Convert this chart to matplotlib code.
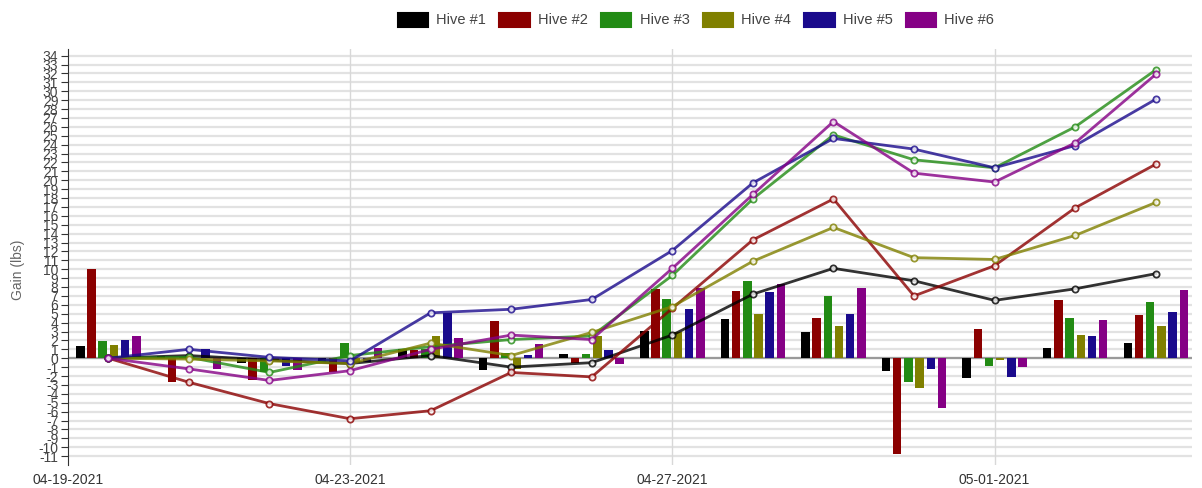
import numpy as np
import matplotlib
matplotlib.use("Agg")
import matplotlib.pyplot as plt
import matplotlib.dates as mdates
from matplotlib.patches import Patch
from datetime import datetime

plt.rcParams['font.family'] = ['Liberation Sans', 'DejaVu Sans']
plt.rcParams['axes.unicode_minus'] = False

# data
dates = ['2021-04-20', '2021-04-21', '2021-04-22', '2021-04-23', '2021-04-24',
         '2021-04-25', '2021-04-26', '2021-04-27', '2021-04-28', '2021-04-29',
         '2021-04-30', '2021-05-01', '2021-05-02', '2021-05-03']
hives = ['Hive #1', 'Hive #2', 'Hive #3', 'Hive #4', 'Hive #5', 'Hive #6']

# daily gain (bars)
daily_1 = [1.4, 0.3, -0.5, -0.4, 1.0, -1.3, 0.5, 3.1, 4.4, 2.9, -1.4, -2.2, 1.2, 1.7]
daily_2 = [10.0, -2.7, -2.4, -1.6, 0.9, 4.2, -0.5, 7.75, 7.5, 4.5, -10.8, 3.3, 6.5, 4.9]
daily_3 = [1.9, 0.1, -1.6, 1.7, 1.0, 0.6, 0.5, 6.6, 8.7, 7.0, -2.7, -0.9, 4.5, 6.3]
daily_4 = [1.5, -0.1, -0.2, -0.5, 2.5, -1.2, 2.5, 2.9, 5.0, 3.6, -3.3, -0.2, 2.6, 3.6]
daily_5 = [2.1, 1.0, -0.9, -0.4, 5.1, 0.4, 0.9, 5.5, 7.4, 5.0, -1.2, -2.1, 2.5, 5.2]
daily_6 = [2.5, -1.2, -1.3, 1.1, 2.3, 1.6, -0.6, 7.9, 8.3, 7.9, -5.6, -1.0, 4.3, 7.7]

# running gain (lines)
total_1 = [0, 0.3, -0.2, -0.6, 0.3, -1.0, -0.5, 2.6, 7.2, 10.1, 8.7, 6.5, 7.8, 9.5]
total_2 = [0, -2.7, -5.1, -6.8, -5.9, -1.6, -2.1, 5.6, 13.3, 17.9, 7.0, 10.4, 16.9, 21.8]
total_3 = [0, 0.1, -1.6, 0.3, 1.3, 2.1, 2.5, 9.3, 17.9, 25.1, 22.3, 21.4, 26.0, 32.4]
total_4 = [0, -0.1, -0.3, -0.6, 1.7, 0.3, 2.9, 5.8, 10.9, 14.7, 11.3, 11.1, 13.8, 17.5]
total_5 = [0, 1.0, 0.1, -0.3, 5.1, 5.5, 6.6, 12.1, 19.7, 24.7, 23.5, 21.4, 23.9, 29.1]
total_6 = [0, -1.2, -2.5, -1.4, 1.0, 2.6, 2.1, 10.1, 18.4, 26.6, 20.8, 19.8, 24.2, 31.9]

daily = [daily_1, daily_2, daily_3, daily_4, daily_5, daily_6]
totals = [total_1, total_2, total_3, total_4, total_5, total_6]
colors = ['#000000', '#8b0000', '#228b14', '#808000', '#1a0a8c', '#850085']

x = mdates.date2num([datetime.strptime(d, '%Y-%m-%d') for d in dates])

fig = plt.figure(figsize=(12.02, 4.88), dpi=100)
ax = fig.add_axes([68 / 1202, 1 - 465 / 488, (1192 - 68) / 1202, (465 - 49) / 488])

# grid
for yv in range(-11, 35):
    ax.axhline(yv, color='#e2e2e2', lw=1.6, zorder=0)
ax.axhline(0, color='#9a9a9a', lw=1.6, zorder=1)
for d in ['2021-04-23', '2021-04-27', '2021-05-01']:
    ax.axvline(mdates.date2num(datetime.strptime(d, '%Y-%m-%d')), color='#d8d8d8', lw=1, zorder=0)

step = 0.139
width = 0.105
for i, (vals, c) in enumerate(zip(daily, colors)):
    ax.bar(x + (i - 2.5) * step, vals, width=width, color=c, zorder=2)

for vals, c in zip(totals, colors):
    ax.plot(x, vals, color=c, lw=2, alpha=0.8, zorder=3,
            marker='o', ms=4.5, mfc='white', mec=c, mew=1.3)

x0 = mdates.date2num(datetime(2021, 4, 19, 12))
ax.set_xlim(x0, x[-1] + 0.45)
ax.set_ylim(-12, 34.75)

ax.set_yticks(range(-11, 35))
ax.tick_params(axis='y', labelsize=10, colors='#333333', labelcolor='#444444', length=5, pad=2)
xt = [x0] + [mdates.date2num(datetime.strptime(d, '%Y-%m-%d'))
             for d in ['2021-04-23', '2021-04-27', '2021-05-01']]
ax.set_xticks(xt)
ax.xaxis.set_major_formatter(mdates.DateFormatter('%m-%d-%Y'))
ax.tick_params(axis='x', length=0, labelsize=10, labelcolor='#333333', pad=6)

for s in ['top', 'right', 'bottom']:
    ax.spines[s].set_visible(False)
ax.spines['left'].set_color('#333333')

fig.text(18 / 1202, 1 - 270 / 488, 'Gain (lbs)', rotation=90, ha='center', va='center',
         fontsize=10, color='#666666')

handles = [Patch(facecolor=c, edgecolor=c, lw=1.5, joinstyle='round', label=h)
           for h, c in zip(hives, colors)]
fig.legend(handles=handles, loc='center', bbox_to_anchor=(0.579, 0.959), ncol=6,
           frameon=False, fontsize=10.5, handlelength=2.1, handleheight=1.1,
           handletextpad=0.55, columnspacing=0.9, labelcolor='#444444')

fig.savefig('out.png', dpi=100)
